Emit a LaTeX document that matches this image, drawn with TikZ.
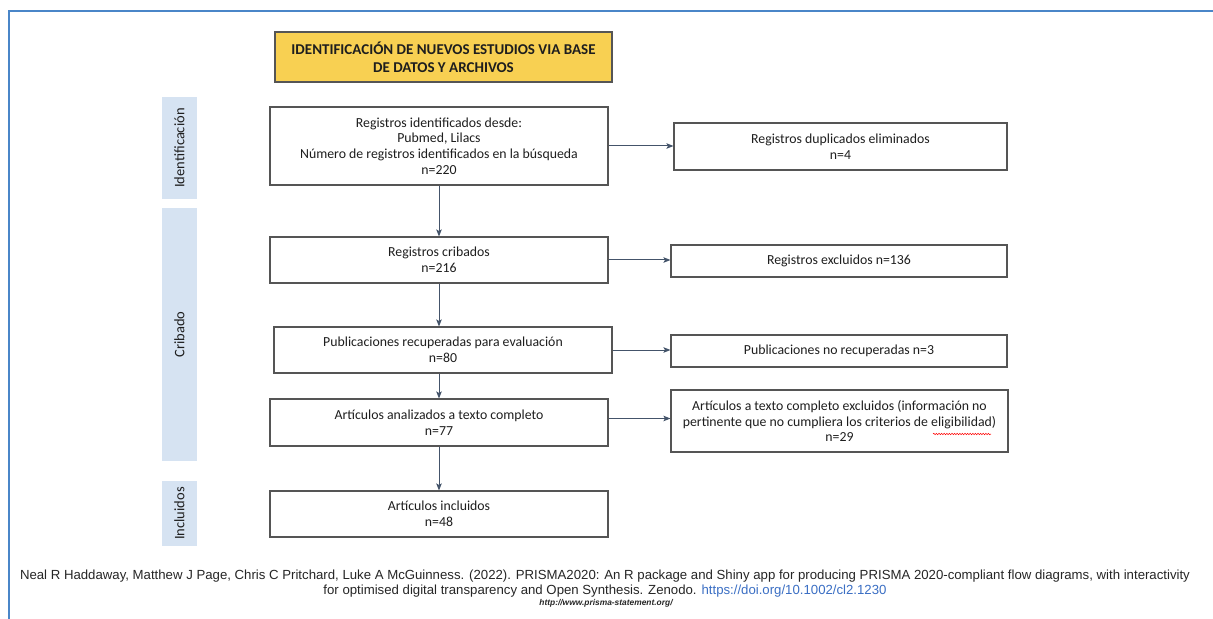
\documentclass[tikz,border=0pt]{standalone}
\usepackage{fontspec}
\setmainfont{Carlito}
\newfontfamily\arialf{Liberation Sans}
\usetikzlibrary{arrows.meta,decorations.pathmorphing}
\definecolor{frameblue}{RGB}{74,134,200}
\definecolor{labelblue}{RGB}{214,227,242}
\definecolor{titleyellow}{RGB}{248,208,82}
\definecolor{arrowc}{RGB}{68,84,106}
\definecolor{boxline}{RGB}{85,85,85}
\definecolor{linkblue}{RGB}{59,111,196}
\definecolor{txt}{RGB}{30,30,30}
\tikzset{
  flowbox/.style={draw=boxline, line width=1.1bp, fill=white, inner sep=0pt, align=center,
    font=\fontsize{13.8bp}{15.7bp}\selectfont, text=txt, minimum width=338bp},
  sidebox/.style={draw=boxline, line width=1.1bp, fill=white, inner sep=0pt, align=center,
    font=\fontsize{13.8bp}{15.7bp}\selectfont, text=txt, minimum width=336bp},
  phase/.style={fill=labelblue, inner sep=0pt, minimum height=35bp, rotate=90,
    font=\fontsize{14.5bp}{16bp}\selectfont, text=txt},
  flow/.style={draw=arrowc, line width=1bp, -{Stealth[length=7bp,width=5.5bp,inset=1.5bp]}},
}
\begin{document}
\begin{tikzpicture}[x=1bp,y=-1bp]
\useasboundingbox (0,0) rectangle (1213,619);
\fill[white] (0,0) rectangle (1213,619);
\draw[frameblue, line width=2bp] (8.5,619) -- (8.5,11) -- (1213,11);

\node[draw=boxline, line width=1.1bp, fill=titleyellow, inner sep=0pt, align=center,
  minimum width=337bp, minimum height=50bp, text=txt,
  font=\fontsize{15bp}{18bp}\selectfont\bfseries] (title) at (443.5,57)
  {IDENTIFICACIÓN DE NUEVOS ESTUDIOS VIA BASE\\DE DATOS Y ARCHIVOS};

\node[phase, minimum width=102bp] (pid) at (179.5,148) {Identificación};
\node[phase, minimum width=253bp] (pcr) at (179.5,334.5) {Cribado};
\node[phase, minimum width=65bp] (pin) at (179.5,513.5) {Incluidos};

\node[flowbox, minimum height=78bp] (b1) at (439,146)
  {Registros identificados desde:\\Pubmed, Lilacs\\Número de registros identificados en la búsqueda\\n=220};
\node[flowbox, minimum height=46bp] (b2) at (439,260) {Registros cribados\\n=216};
\node[flowbox, minimum height=46bp] (b3) at (443,350) {Publicaciones recuperadas para evaluación\\n=80};
\node[flowbox, minimum height=47bp] (b4) at (439,422.5) {Artículos analizados a texto completo\\n=77};
\node[flowbox, minimum height=46bp] (b5) at (439,514) {Artículos incluidos\\n=48};

\node[sidebox, minimum width=333bp, minimum height=47bp] (r1) at (840.5,146.5) {Registros duplicados eliminados\\n=4};
\node[sidebox, minimum height=32bp] (r2) at (839,261) {Registros excluidos n=136};
\node[sidebox, minimum height=32bp] (r3) at (839,351) {Publicaciones no recuperadas n=3};
\node[sidebox, minimum width=337bp, minimum height=62bp] (r4) at (839.5,421)
  {Artículos a texto completo excluidos (información no\\pertinente que no cumpliera los criterios de eligibilidad)\\n=29};

\draw[flow] (b1.south) -- (b1.south |- b2.north);
\draw[flow] (b2.south) -- (b2.south |- b3.north);
\draw[flow] (b2.south |- b3.south) -- (b2.south |- b4.north);
\draw[flow] (b4.south) -- (b4.south |- b5.north);

\draw[flow] (b1.east) -- (b1.east -| r1.west);
\draw[flow] (b2.east) -- (b2.east -| r2.west);
\draw[flow] (b3.east) -- (b3.east -| r3.west);
\draw[flow] ([yshift=4bp]b4.east) -- ([yshift=4bp]b4.east -| r4.west);

\draw[red, line width=0.5bp, decorate, decoration={snake, amplitude=0.7bp, segment length=2.6bp}]
  (933,434) -- (991,434);

\node[align=center, inner sep=0pt, text=black!85, font=\arialf\fontsize{13.2bp}{15bp}\selectfont] (cite) at (605,584)
  {Neal R Haddaway, Matthew J Page, Chris C Pritchard, Luke A McGuinness. (2022). PRISMA2020: An R package and Shiny app for producing PRISMA 2020-compliant flow diagrams, with interactivity\\
   for optimised digital transparency and Open Synthesis. Zenodo. \textcolor{linkblue}{https://doi.org/10.1002/cl2.1230}};
\node[inner sep=0pt, text=black!85, font=\arialf\bfseries\itshape\fontsize{8.4bp}{9bp}\selectfont] (url) at (606,603)
  {http://www.prisma-statement.org/};
\end{tikzpicture}
\end{document}
